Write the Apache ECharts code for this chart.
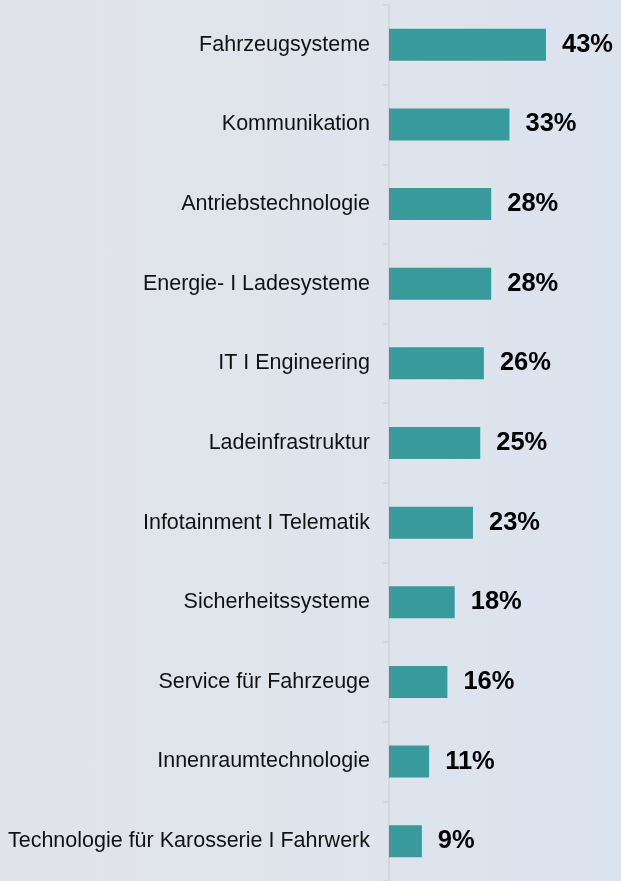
<!DOCTYPE html>
<html>
<head>
<meta charset="utf-8">
<script src="https://cdn.jsdelivr.net/npm/echarts@6/dist/echarts.min.js"></script>
<style>
  html, body { margin: 0; padding: 0; }
  #chart {
    width: 621px;
    height: 881px;
    background: linear-gradient(90deg, #e1e3e9 0%, #dfe4ec 50%, #dbe3ef 100%);
  }
</style>
</head>
<body>
<div id="chart"></div>
<script>
var categories = [
  'Fahrzeugsysteme',
  'Kommunikation',
  'Antriebstechnologie',
  'Energie- I Ladesysteme',
  'IT I Engineering',
  'Ladeinfrastruktur',
  'Infotainment I Telematik',
  'Sicherheitssysteme',
  'Service für Fahrzeuge',
  'Innenraumtechnologie',
  'Technologie für Karosserie I Fahrwerk'
]
var values = [43, 33, 28, 28, 26, 25, 23, 18, 16, 11, 9]

var chart = echarts.init(document.getElementById('chart'))
chart.setOption({
  backgroundColor: 'transparent',
  grid: {
    left: 389,
    top: 5,
    width: 219,
    height: 880
  },
  xAxis: {
    type: 'value',
    min: 0,
    max: 60,
    show: false
  },
  yAxis: {
    type: 'category',
    data: categories,
    inverse: true,
    axisLine: {
      show: true,
      lineStyle: { color: '#d3d6da', width: 2 }
    },
    axisTick: {
      show: true,
      length: 6,
      lineStyle: { color: '#d3d6da', width: 2 }
    },
    axisLabel: {
      margin: 19,
      color: '#111',
      fontSize: 21.5,
      fontFamily: 'Liberation Sans, Arial, sans-serif'
    }
  },
  series: [
    {
      type: 'bar',
      data: values,
      barWidth: 32,
      itemStyle: { color: '#389a9a' },
      label: {
        show: true,
        position: 'right',
        distance: 16,
        formatter: '{c}%',
        color: '#000',
        fontSize: 25.5,
        fontWeight: 'bold',
        fontFamily: 'Liberation Sans, Arial, sans-serif'
      },
      animation: false
    }
  ]
})
</script>
</body>
</html>
